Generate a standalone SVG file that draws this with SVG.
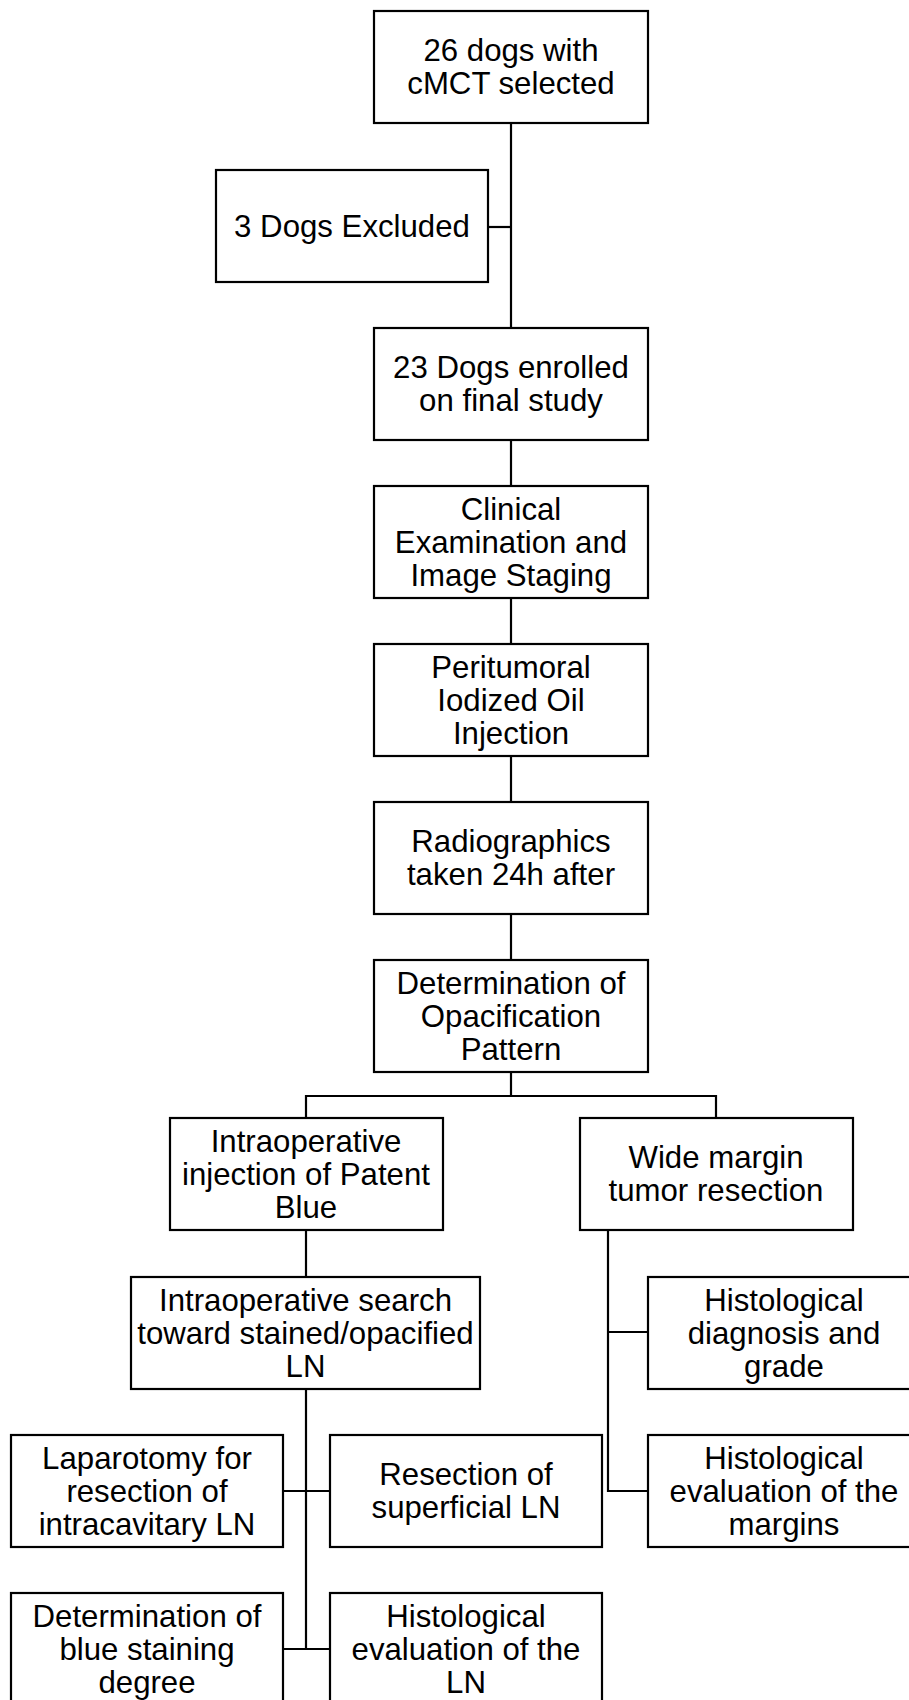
<svg xmlns="http://www.w3.org/2000/svg" width="909" height="1700" viewBox="0 0 909 1700">
<style>
rect.box{fill:#fff;stroke:#000;stroke-width:2.2}
text{font-family:"Liberation Sans",Arial,sans-serif;font-size:31.2px;fill:#000;text-anchor:middle}
#connectors line{stroke:#000;stroke-width:2.2}
</style>
<rect x="0" y="0" width="909" height="1700" fill="#fff"/>
<g id="connectors">
<line x1="511" y1="123" x2="511" y2="328"/>
<line x1="488" y1="227" x2="511" y2="227"/>
<line x1="511" y1="440" x2="511" y2="486"/>
<line x1="511" y1="598" x2="511" y2="644"/>
<line x1="511" y1="756" x2="511" y2="802"/>
<line x1="511" y1="914" x2="511" y2="960"/>
<line x1="511" y1="1072" x2="511" y2="1096"/>
<line x1="305" y1="1096" x2="717" y2="1096"/>
<line x1="306" y1="1095" x2="306" y2="1118"/>
<line x1="716" y1="1095" x2="716" y2="1118"/>
<line x1="306" y1="1230" x2="306" y2="1277"/>
<line x1="306" y1="1389" x2="306" y2="1649"/>
<line x1="283" y1="1491" x2="330" y2="1491"/>
<line x1="283" y1="1649" x2="330" y2="1649"/>
<line x1="608" y1="1230" x2="608" y2="1492"/>
<line x1="607" y1="1332" x2="648" y2="1332"/>
<line x1="607" y1="1491" x2="648" y2="1491"/>
</g>
<g id="n1"><rect class="box" x="374" y="11" width="274" height="112"/>
<text x="511" y="61">26 dogs with</text><text x="511" y="94">cMCT selected</text></g>
<g id="n2"><rect class="box" x="216" y="170" width="272" height="112"/>
<text x="352" y="237">3 Dogs Excluded</text></g>
<g id="n3"><rect class="box" x="374" y="328" width="274" height="112"/>
<text x="511" y="378">23 Dogs enrolled</text><text x="511" y="411">on final study</text></g>
<g id="n4"><rect class="box" x="374" y="486" width="274" height="112"/>
<text x="511" y="519.5">Clinical</text><text x="511" y="552.5">Examination and</text><text x="511" y="585.5">Image Staging</text></g>
<g id="n5"><rect class="box" x="374" y="644" width="274" height="112"/>
<text x="511" y="677.5">Peritumoral</text><text x="511" y="710.5">Iodized Oil</text><text x="511" y="743.5">Injection</text></g>
<g id="n6"><rect class="box" x="374" y="802" width="274" height="112"/>
<text x="511" y="852">Radiographics</text><text x="511" y="885">taken 24h after</text></g>
<g id="n7"><rect class="box" x="374" y="960" width="274" height="112"/>
<text x="511" y="993.5">Determination of</text><text x="511" y="1026.5">Opacification</text><text x="511" y="1059.5">Pattern</text></g>
<g id="n8"><rect class="box" x="170" y="1118" width="273" height="112"/>
<text x="306" y="1151.5">Intraoperative</text><text x="306" y="1184.5">injection of Patent</text><text x="306" y="1217.5">Blue</text></g>
<g id="n9"><rect class="box" x="580" y="1118" width="273" height="112"/>
<text x="716" y="1168">Wide margin</text><text x="716" y="1201">tumor resection</text></g>
<g id="n10"><rect class="box" x="131" y="1277" width="349" height="112"/>
<text x="305.5" y="1310.5">Intraoperative search</text><text x="305.5" y="1343.5">toward stained/opacified</text><text x="305.5" y="1376.5">LN</text></g>
<g id="n11"><rect class="box" x="648" y="1277" width="272" height="112"/>
<text x="784" y="1310.5">Histological</text><text x="784" y="1343.5">diagnosis and</text><text x="784" y="1376.5">grade</text></g>
<g id="n12"><rect class="box" x="11" y="1435" width="272" height="112"/>
<text x="147" y="1468.5">Laparotomy for</text><text x="147" y="1501.5">resection of</text><text x="147" y="1534.5">intracavitary LN</text></g>
<g id="n13"><rect class="box" x="330" y="1435" width="272" height="112"/>
<text x="466" y="1485">Resection of</text><text x="466" y="1518">superficial LN</text></g>
<g id="n14"><rect class="box" x="648" y="1435" width="272" height="112"/>
<text x="784" y="1468.5">Histological</text><text x="784" y="1501.5">evaluation of the</text><text x="784" y="1534.5">margins</text></g>
<g id="n15"><rect class="box" x="11" y="1593" width="272" height="112"/>
<text x="147" y="1626.5">Determination of</text><text x="147" y="1659.5">blue staining</text><text x="147" y="1692.5">degree</text></g>
<g id="n16"><rect class="box" x="330" y="1593" width="272" height="112"/>
<text x="466" y="1626.5">Histological</text><text x="466" y="1659.5">evaluation of the</text><text x="466" y="1692.5">LN</text></g>
</svg>
